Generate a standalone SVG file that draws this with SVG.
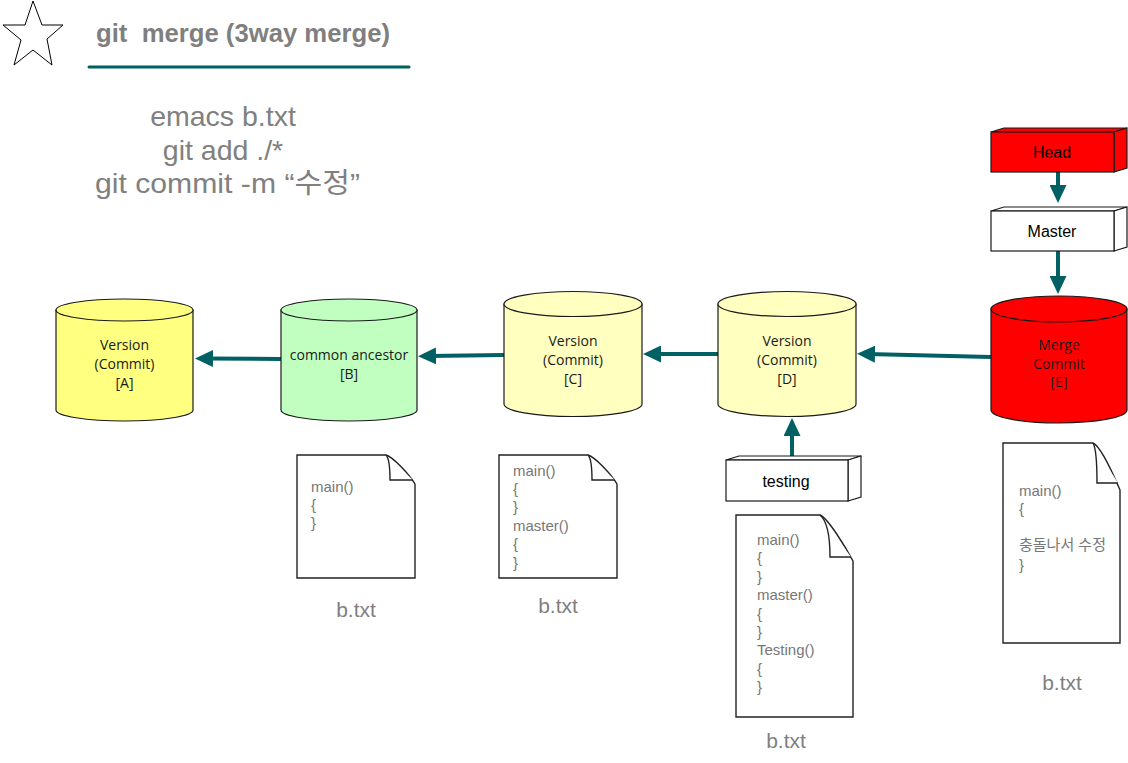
<svg xmlns="http://www.w3.org/2000/svg" width="1128" height="763" viewBox="0 0 1128 763">
<style>
.cyl{stroke:#1a1a1a;stroke-width:1.2}
.ct{font-family:"Open Sans","DejaVu Sans",sans-serif;font-size:14px;fill:#1a1a1a;text-anchor:middle}
.box{stroke:#1a1a1a;stroke-width:1.2}
.bt{font-family:"Liberation Sans",Arial,sans-serif;font-size:16px;fill:#000;text-anchor:middle}
.doc{fill:#fff;stroke:#222;stroke-width:1.4}
.dt{font-family:"Liberation Sans",Arial,"Noto Sans CJK KR",sans-serif;font-size:15px;fill:#777}
.fn{font-family:"Liberation Sans",Arial,sans-serif;font-size:21px;fill:#7f7f7f;text-anchor:middle}
.cmd{font-family:"Liberation Sans",Arial,"Noto Sans CJK KR",sans-serif;font-size:28.5px;fill:#808080;text-anchor:middle}
.conn{stroke:#006064;stroke-width:4;fill:none}
</style>
<defs>
<marker id="ah" viewBox="0 0 18 17" markerWidth="18" markerHeight="17" refX="8" refY="8.5" orient="auto" markerUnits="userSpaceOnUse">
<path d="M0,0 L18,8.5 L0,17 Z" fill="#006064"/>
</marker>
</defs>
<rect width="1128" height="763" fill="#fff"/>

<g id="title">
<polygon points="33,1 42,25 63,25 47,39 52,65 33,50 14,65 21,40 3,25 25,25" fill="#fff" stroke="#000" stroke-width="1"/>
<text x="96" y="42" font-family="Liberation Sans,Arial,sans-serif" font-size="25" font-weight="bold" fill="#7f7f7f" textLength="294" lengthAdjust="spacingAndGlyphs" xml:space="preserve">git  merge (3way merge)</text>
<line x1="89" y1="67" x2="409" y2="67" stroke="#005f5f" stroke-width="3" stroke-linecap="round"/>
</g>

<g id="commands">
<text class="cmd" x="223" y="126">emacs b.txt</text>
<text class="cmd" x="223" y="160">git add ./*</text>
<text class="cmd" x="227.5" y="193" textLength="265" lengthAdjust="spacingAndGlyphs">git commit -m “수정”</text>
</g>

<g id="connectors">
<line class="conn" x1="1058" y1="172" x2="1058" y2="193" marker-end="url(#ah)"/>
<line class="conn" x1="1058" y1="251" x2="1058" y2="284" marker-end="url(#ah)"/>
<line class="conn" x1="281" y1="359" x2="205" y2="358.5" marker-end="url(#ah)"/>
<line class="conn" x1="504" y1="355" x2="428" y2="356" marker-end="url(#ah)"/>
<line class="conn" x1="718" y1="354" x2="653" y2="354" marker-end="url(#ah)"/>
<line class="conn" x1="991" y1="357" x2="867" y2="354" marker-end="url(#ah)"/>
<line class="conn" x1="792" y1="458" x2="792" y2="428" marker-end="url(#ah)"/>
</g>

<g id="nodeA">
<path class="cyl" fill="#ffff80" d="M56,310 V410 A68.5,11 0 0 0 193,410 V310 Z"/>
<ellipse class="cyl" fill="#ffff80" cx="124.5" cy="310" rx="68.5" ry="11"/>
<text class="ct" x="124.5" y="350">Version</text>
<text class="ct" x="124.5" y="369">(Commit)</text>
<text class="ct" x="124.5" y="388">[A]</text>
</g>

<g id="nodeB">
<path class="cyl" fill="#c0ffc0" d="M281,310 V410 A68,11 0 0 0 417,410 V310 Z"/>
<ellipse class="cyl" fill="#c0ffc0" cx="349" cy="310" rx="68" ry="11"/>
<text class="ct" x="349" y="360">common ancestor</text>
<text class="ct" x="349" y="379">[B]</text>
</g>

<g id="nodeC">
<path class="cyl" fill="#ffffc0" d="M504,304 V404 A69,12.5 0 0 0 642,404 V304 Z"/>
<ellipse class="cyl" fill="#ffffc0" cx="573" cy="304" rx="69" ry="12.5"/>
<text class="ct" x="573" y="346">Version</text>
<text class="ct" x="573" y="365">(Commit)</text>
<text class="ct" x="573" y="384">[C]</text>
</g>

<g id="nodeD">
<path class="cyl" fill="#ffffc0" d="M718,304 V404 A69,12.5 0 0 0 856,404 V304 Z"/>
<ellipse class="cyl" fill="#ffffc0" cx="787" cy="304" rx="69" ry="12.5"/>
<text class="ct" x="787" y="346">Version</text>
<text class="ct" x="787" y="365">(Commit)</text>
<text class="ct" x="787" y="384">[D]</text>
</g>

<g id="nodeE">
<path class="cyl" fill="#ff0000" d="M991,309 V410 A68,13 0 0 0 1127,410 V309 Z"/>
<ellipse class="cyl" fill="#ff0000" cx="1059" cy="309" rx="68" ry="13"/>
<text class="ct" x="1059" y="350">Merge</text>
<text class="ct" x="1059" y="369">Commit</text>
<text class="ct" x="1059" y="387">[E]</text>
</g>

<g id="head">
<polygon class="box" fill="#ff0000" points="991,132 1004,128 1127,128 1114,132"/>
<polygon class="box" fill="#ff0000" points="1114,132 1127,128 1127,168 1114,172"/>
<rect class="box" fill="#ff0000" x="991" y="132" width="123" height="40"/>
<text class="bt" x="1052" y="158">Head</text>
</g>

<g id="master">
<polygon class="box" fill="#fff" points="991,211 1004,207 1127,207 1114,211"/>
<polygon class="box" fill="#fff" points="1114,211 1127,207 1127,247 1114,251"/>
<rect class="box" fill="#fff" x="991" y="211" width="123" height="40"/>
<text class="bt" x="1052" y="237">Master</text>
</g>

<g id="testing">
<polygon class="box" fill="#fff" points="726,460 739,456 861,456 848,460"/>
<polygon class="box" fill="#fff" points="848,460 861,456 861,497 848,501"/>
<rect class="box" fill="#fff" x="726" y="460" width="122" height="41"/>
<text class="bt" x="786" y="487">testing</text>
</g>

<g id="docB">
<path class="doc" d="M297,455 H386 C393,457 409,474 415,484 V578 H297 Z"/>
<path class="doc" d="M386,455 C389,458 390,470 390,480 H413"/>
<text class="dt" x="311" y="492">main()</text>
<text class="dt" x="311" y="510">{</text>
<text class="dt" x="311" y="528">}</text>
<text class="fn" x="356" y="617">b.txt</text>
</g>

<g id="docC">
<path class="doc" d="M499,455 H588 C595,457 611,474 617,484 V578 H499 Z"/>
<path class="doc" d="M588,455 C591,458 592,470 592,480 H615"/>
<text class="dt" x="513" y="476">main()</text>
<text class="dt" x="513" y="494">{</text>
<text class="dt" x="513" y="512">}</text>
<text class="dt" x="513" y="531">master()</text>
<text class="dt" x="513" y="549">{</text>
<text class="dt" x="513" y="568">}</text>
<text class="fn" x="558" y="613">b.txt</text>
</g>

<g id="docD">
<path class="doc" d="M736,515 H820 C828,518 846,548 853,561 V717 H736 Z"/>
<path class="doc" d="M820,515 C826,520 830,535 830,557 H851"/>
<text class="dt" x="757" y="545">main()</text>
<text class="dt" x="757" y="563">{</text>
<text class="dt" x="757" y="582">}</text>
<text class="dt" x="757" y="600">master()</text>
<text class="dt" x="757" y="619">{</text>
<text class="dt" x="757" y="637">}</text>
<text class="dt" x="757" y="655">Testing()</text>
<text class="dt" x="757" y="674">{</text>
<text class="dt" x="757" y="692">}</text>
<text class="fn" x="786" y="748">b.txt</text>
</g>

<g id="docE">
<path class="doc" d="M1003,443 H1093 C1101,446 1114,476 1120,490 V643 H1003 Z"/>
<path class="doc" d="M1093,443 C1096,448 1097,465 1097,483 H1118"/>
<text class="dt" x="1019" y="496">main()</text>
<text class="dt" x="1019" y="514">{</text>
<text class="dt" x="1019" y="550" font-size="14">충돌나서 수정</text>
<text class="dt" x="1019" y="570">}</text>
<text class="fn" x="1062" y="690">b.txt</text>
</g>
</svg>
